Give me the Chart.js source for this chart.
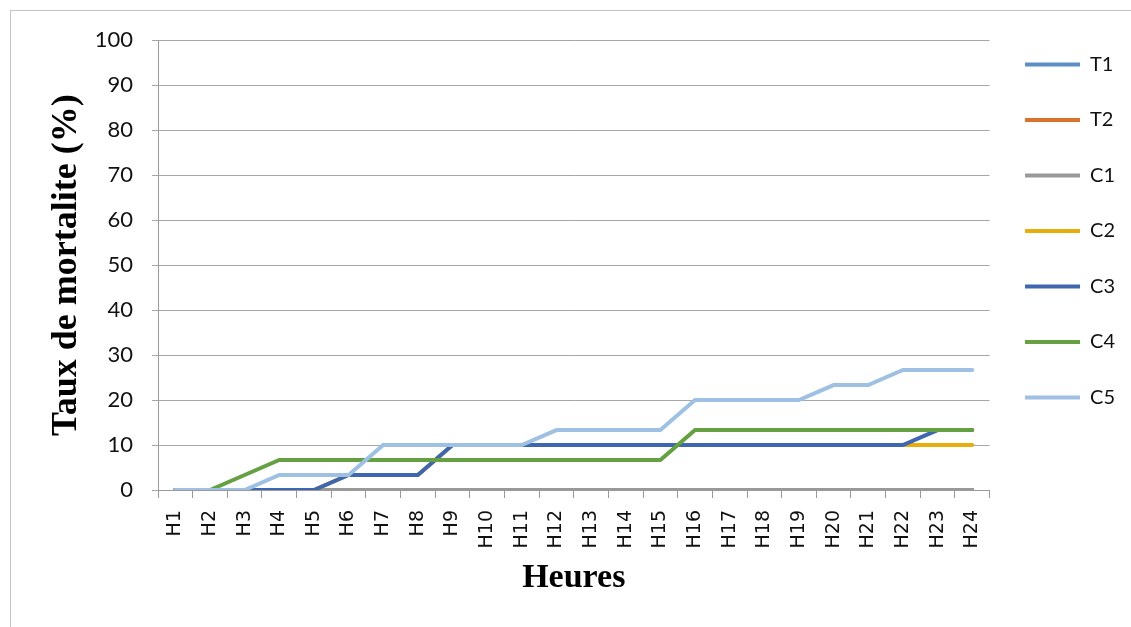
<!DOCTYPE html>
<html>
<head>
<meta charset="utf-8">
<script src="https://cdn.jsdelivr.net/npm/chart.js@4.4.1/dist/chart.umd.min.js"></script>
<style>
  html, body { margin: 0; padding: 0; background: #fff; overflow: hidden; }
  #wrap { position: relative; width: 1131px; height: 627px; }
  #frame { position: absolute; left: 10px; top: 10px; width: 1200px; height: 700px; border: 1px solid #c4c4c4; }
  canvas { position: absolute; left: 0; top: 0; }
</style>
</head>
<body>
<div id="wrap">
  <div id="frame"></div>
  <canvas id="mortaliteChart" width="1131" height="627"></canvas>
</div>
<script>
// Données
var heures = ['H1','H2','H3','H4','H5','H6','H7','H8','H9','H10','H11','H12',
              'H13','H14','H15','H16','H17','H18','H19','H20','H21','H22','H23','H24'];
var seriesNames = ['T1', 'T2', 'C1', 'C2', 'C3', 'C4', 'C5'];
var T1 = [0,0,0,0,0,0,0,0,0,0,0,0,0,0,0,0,0,0,0,0,0,0,0,0];
var T2 = [0,0,0,0,0,0,0,0,0,0,0,0,0,0,0,0,0,0,0,0,0,0,0,0];
var C1 = [0,0,0,0,0,0,0,0,0,0,0,0,0,0,0,0,0,0,0,0,0,0,0,0];
var C2 = [0,0,0,0,0,3.33,3.33,3.33,10,10,10,10,10,10,10,10,10,10,10,10,10,10,10,10];
var C3 = [0,0,0,0,0,3.33,3.33,3.33,10,10,10,10,10,10,10,10,10,10,10,10,10,10,13.33,13.33];
var C4 = [0,0,3.33,6.67,6.67,6.67,6.67,6.67,6.67,6.67,6.67,6.67,6.67,6.67,6.67,13.33,13.33,13.33,13.33,13.33,13.33,13.33,13.33,13.33];
var C5 = [0,0,0,3.33,3.33,3.33,10,10,10,10,10,13.33,13.33,13.33,13.33,20,20,20,20,23.33,23.33,26.67,26.67,26.67];
var yTicks = [0,10,20,30,40,50,60,70,80,90,100];

var couleurs = ['#5b8fc6', '#d9712f', '#999999', '#e6ad0b', '#3f67b0', '#65a042', '#9dc0e3'];
var valeurs = [T1, T2, C1, C2, C3, C4, C5];

var datasets = seriesNames.map(function (nom, i) {
    return {
        label: nom,
        data: valeurs[i],
        borderColor: couleurs[i],
        backgroundColor: couleurs[i],
        borderWidth: 4,
        borderCapStyle: 'round',
        pointRadius: 0,
        tension: 0,
        order: seriesNames.length - i   // C5 dessinée au-dessus
    };
});

var ctx = document.getElementById('mortaliteChart').getContext('2d');
var chart = new Chart(ctx, {
    type: 'line',
    data: { labels: heures, datasets: datasets },
    options: {
        responsive: false,
        animation: false,
        layout: { padding: { left: 20, top: 19, right: 6, bottom: 0 } },
        plugins: {
            tooltip: { enabled: false },
            // titre vide : sert juste à descendre la zone du graphique sous la légende
            title: {
                display: true,
                text: ' ',
                fullSize: false,
                font: { size: 1 },
                padding: { top: 10, bottom: 10 }
            },
            legend: {
                position: 'right',
                align: 'start',
                labels: {
                    usePointStyle: true,
                    pointStyle: 'line',
                    pointStyleWidth: 55,
                    boxHeight: 4,
                    padding: 35.5,
                    color: '#111',
                    font: { family: 'Lato, "Open Sans", sans-serif', size: 20 },
                    sort: function (a, b) { return a.datasetIndex - b.datasetIndex; }
                }
            }
        },
        scales: {
            x: {
                offset: true,
                afterFit: function (s) { s.height = 137; },
                grid: {
                    offset: true,
                    drawOnChartArea: false,
                    drawTicks: true,
                    tickLength: 8,
                    color: '#9a9a9a'
                },
                border: { color: '#9a9a9a' },
                ticks: {
                    maxRotation: 90,
                    minRotation: 90,
                    autoSkip: false,
                    padding: 12,
                    color: '#111',
                    font: { family: '"DejaVu Sans", sans-serif', size: 19 }
                },
                title: {
                    display: true,
                    text: 'Heures',
                    color: '#000',
                    padding: { top: 0, bottom: 28 },
                    font: { family: '"Liberation Serif", serif', size: 34, weight: 'bold' }
                }
            },
            y: {
                min: 0,
                max: 100,
                afterFit: function (s) { s.width = 138; },
                afterBuildTicks: function (s) {
                    s.ticks = yTicks.map(function (v) { return { value: v }; });
                },
                grid: {
                    color: '#a6a6a6',
                    tickLength: 6,
                    drawTicks: true
                },
                border: { color: '#9a9a9a' },
                ticks: {
                    padding: 19,
                    color: '#111',
                    font: { family: 'Lato, "Open Sans", sans-serif', size: 22 }
                },
                title: {
                    display: true,
                    text: 'Taux de mortalite (%)',
                    color: '#000',
                    padding: { top: 25, bottom: 0 },
                    font: { family: '"Liberation Serif", serif', size: 36, weight: 'bold' }
                }
            }
        }
    }
});
</script>
</body>
</html>
